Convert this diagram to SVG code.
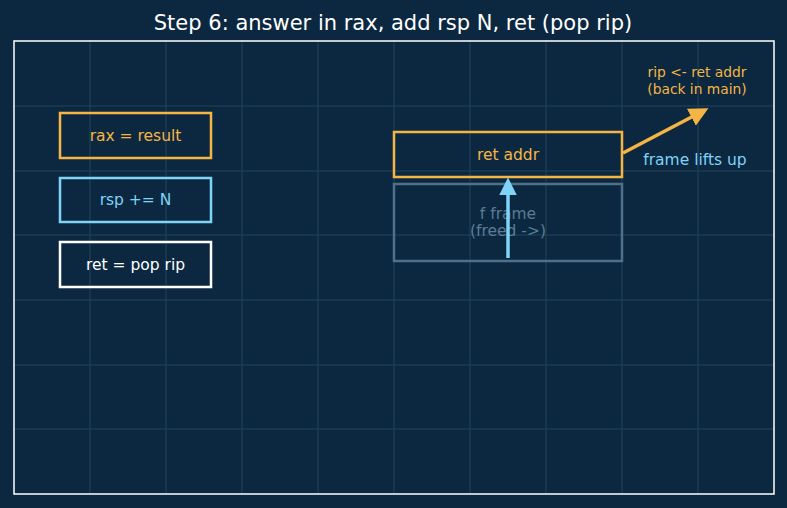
<svg xmlns="http://www.w3.org/2000/svg" width="787" height="508" viewBox="0 0 787 508">
<defs>
<style>
text{font-family:"DejaVu Sans","Noto Sans",sans-serif;text-anchor:middle}
.grid line{stroke:#22425b;stroke-width:1}
.or{stroke:#f5b544;fill:none;stroke-width:2.5}
.bl{stroke:#7fd3f7;fill:none;stroke-width:2.5}
.wh{stroke:#ffffff;fill:none;stroke-width:2.5}
.t14{font-size:15.5px}
</style>
<marker id="ao" viewBox="0 0 10 10" refX="8" refY="5" markerWidth="5.5" markerHeight="5.5" orient="auto"><path d="M0,0 L10,5 L0,10 z" fill="#f5b544"/></marker>
<marker id="ab" viewBox="0 0 10 10" refX="8" refY="5" markerWidth="5" markerHeight="5" orient="auto"><path d="M0,0 L10,5 L0,10 z" fill="#7fd3f7"/></marker>
</defs>
<rect width="787" height="508" fill="#0c2840"/>
<text x="393" y="30" font-size="21" fill="#ffffff">Step 6: answer in rax, add rsp N, ret (pop rip)</text>
<g class="grid">
<line x1="90" y1="41" x2="90" y2="494"/><line x1="166" y1="41" x2="166" y2="494"/><line x1="242" y1="41" x2="242" y2="494"/><line x1="318" y1="41" x2="318" y2="494"/><line x1="394" y1="41" x2="394" y2="494"/><line x1="470" y1="41" x2="470" y2="494"/><line x1="546" y1="41" x2="546" y2="494"/><line x1="622" y1="41" x2="622" y2="494"/><line x1="698" y1="41" x2="698" y2="494"/>
<line x1="14" y1="106" x2="774" y2="106"/><line x1="14" y1="171" x2="774" y2="171"/><line x1="14" y1="235" x2="774" y2="235"/><line x1="14" y1="300" x2="774" y2="300"/><line x1="14" y1="365" x2="774" y2="365"/><line x1="14" y1="429" x2="774" y2="429"/>
</g>
<rect x="14" y="41" width="760" height="453" fill="none" stroke="#ffffff" stroke-width="1.5"/>
<g id="rax"><rect class="or" x="60" y="113" width="151" height="45"/><text class="t14" x="135.5" y="141" fill="#f5b544">rax = result</text></g>
<g id="rsp"><rect class="bl" x="60" y="178" width="151" height="44"/><text class="t14" x="135.5" y="205" fill="#7fd3f7">rsp += N</text></g>
<g id="ret"><rect class="wh" x="60" y="242" width="151" height="45"/><text class="t14" x="135.5" y="270" fill="#ffffff">ret = pop rip</text></g>
<g id="fframe"><rect x="394" y="184" width="228" height="77" fill="none" stroke="#4f6f8a" stroke-width="2.5"/><text class="t14" x="508" y="219" fill="#5a7b96">f frame</text><text class="t14" x="508" y="236" fill="#5a7b96">(freed -&gt;)</text></g>
<g id="retaddr"><rect class="or" x="394" y="132" width="228" height="45"/><text class="t14" x="508" y="160" fill="#f5b544">ret addr</text></g>
<g id="labels"><text x="697" y="77" font-size="13.8" fill="#f5b544">rip &lt;- ret addr</text><text x="697" y="94" font-size="13.8" fill="#f5b544">(back in main)</text><text class="t14" x="695" y="165" fill="#7fd3f7">frame lifts up</text></g>
<g id="connectors">
<line x1="508" y1="258" x2="508" y2="181" stroke="#7fd3f7" stroke-width="3.5" marker-end="url(#ab)"/>
<line x1="623" y1="153" x2="705" y2="110" stroke="#f5b544" stroke-width="3.5" marker-end="url(#ao)"/>
</g>
</svg>
